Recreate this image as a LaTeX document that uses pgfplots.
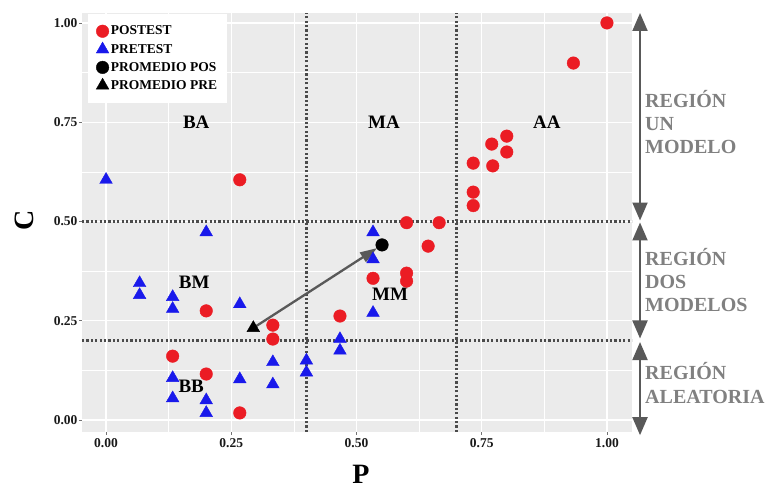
\documentclass[border=0pt]{standalone}
\usepackage{fontspec}
\setmainfont{Liberation Serif}
\usepackage{pgfplots}
\pgfplotsset{compat=1.18}
\usetikzlibrary{arrows.meta}

\definecolor{pos}{RGB}{235,28,36}
\definecolor{pre}{RGB}{25,25,235}
\definecolor{panel}{RGB}{235,235,235}
\definecolor{refline}{RGB}{75,75,75}
\definecolor{arr}{RGB}{89,89,89}
\definecolor{regtext}{RGB}{128,128,128}

\newcommand{\tickfont}{\bfseries\fontsize{13.5}{14}\selectfont}
\newcommand{\zonefont}{\bfseries\fontsize{19}{20}\selectfont}
\newcommand{\regfont}{\bfseries\fontsize{20}{22}\selectfont}

\begin{document}
\begin{tikzpicture}
\useasboundingbox (-82pt,-57pt) rectangle (683pt,432pt);
\begin{axis}[
    scale only axis,
    width=550pt, height=419pt,
    xmin=-0.048, xmax=1.05, ymin=-0.03, ymax=1.025,
    axis background/.style={fill=panel},
    axis line style={draw=none},
    xtick={0,0.25,0.5,0.75,1}, ytick={0,0.25,0.5,0.75,1},
    minor xtick={0.125,0.375,0.625,0.875},
    minor ytick={0.125,0.375,0.625,0.875},
    xticklabels={0.00,0.25,0.50,0.75,1.00},
    yticklabels={0.00,0.25,0.50,0.75,1.00},
    grid=both,
    major grid style={white, line width=1.4pt},
    minor grid style={white, line width=0.7pt},
    tick pos=left, tick align=outside,
    major tick length=3pt, minor tick length=0pt,
    tick style={black!55, line width=0.8pt},
    ticklabel style={font=\tickfont, text=black!90},
    yticklabel style={xshift=2pt},
    xlabel={P}, ylabel={C},
    label style={font=\bfseries\fontsize{28}{28}\selectfont},
    xlabel style={at={(axis description cs:0.507,-0.1)}, anchor=center},
    ylabel style={at={(axis description cs:-0.104,0.506)}, anchor=center},
    clip=false,
    legend style={at={(0.011,0.998)}, anchor=north west, draw=none, fill=white,
        font=\bfseries\fontsize{13.5}{14}\selectfont,
        inner xsep=8pt, inner ysep=10pt, row sep=3.6pt,
        /tikz/every even column/.append style={column sep=4pt}},
    legend cell align=left,
]
% postest
\addplot[only marks, mark=*, mark size=6.3pt, draw=pos, fill=pos] coordinates {
(1.000,1.000) (0.933,0.899) (0.800,0.715) (0.770,0.695) (0.800,0.675)
(0.733,0.647) (0.772,0.640) (0.733,0.574) (0.733,0.540) (0.600,0.497)
(0.665,0.497) (0.643,0.438) (0.533,0.357) (0.600,0.370) (0.600,0.350)
(0.467,0.262) (0.333,0.239) (0.333,0.204) (0.200,0.275) (0.133,0.161)
(0.200,0.116) (0.267,0.018) (0.267,0.605)
};
\addlegendentry{POSTEST}
% pretest
\addplot[only marks, mark=triangle*, mark size=7.3pt, draw=pre, fill=pre] coordinates {
(0.000,0.605) (0.200,0.473) (0.067,0.345) (0.067,0.315) (0.133,0.310)
(0.133,0.280) (0.267,0.292) (0.133,0.106) (0.133,0.055) (0.200,0.050)
(0.200,0.018) (0.267,0.103) (0.333,0.146) (0.333,0.090) (0.400,0.150)
(0.400,0.120) (0.467,0.204) (0.467,0.175) (0.533,0.473) (0.533,0.405)
(0.533,0.270)
};
\addlegendentry{PRETEST}

% region borders
\draw[refline, line width=2.6pt, dash pattern=on 2.2pt off 2.2pt] (axis cs:0.4,-0.03) -- (axis cs:0.4,1.025);
\draw[refline, line width=2.6pt, dash pattern=on 2.2pt off 2.2pt] (axis cs:0.7,-0.03) -- (axis cs:0.7,1.025);
\draw[refline, line width=2.6pt, dash pattern=on 2.2pt off 2.2pt] (axis cs:-0.048,0.5) -- (axis cs:1.05,0.5);
\draw[refline, line width=2.6pt, dash pattern=on 2.2pt off 2.2pt] (axis cs:-0.048,0.2) -- (axis cs:1.05,0.2);

% mean shift
\draw[arr, line width=2.3pt, -{Triangle[length=17pt,width=11pt]}] (axis cs:0.294,0.232) -- (axis cs:0.541,0.433);

\addplot[only marks, mark=*, mark size=6.3pt, black] coordinates {(0.551,0.441)};
\addlegendentry{PROMEDIO POS}
\addplot[only marks, mark=triangle*, mark size=7.3pt, black] coordinates {(0.294,0.232)};
\addlegendentry{PROMEDIO PRE}

% zone labels
\node[font=\zonefont] at (axis cs:0.180,0.750) {BA};
\node[font=\zonefont] at (axis cs:0.555,0.750) {MA};
\node[font=\zonefont] at (axis cs:0.880,0.750) {AA};
\node[font=\zonefont] at (axis cs:0.176,0.348) {BM};
\node[font=\zonefont] at (axis cs:0.567,0.317) {MM};
\node[font=\zonefont] at (axis cs:0.170,0.084) {BB};

% region arrows
\draw[arr, line width=2pt, {Triangle[length=18pt,width=15pt]}-{Triangle[length=18pt,width=15pt]}] (axis cs:1.066,1.025) -- (axis cs:1.066,0.5025);
\draw[arr, line width=2pt, {Triangle[length=18pt,width=15pt]}-{Triangle[length=18pt,width=15pt]}] (axis cs:1.066,0.4975) -- (axis cs:1.066,0.2055);
\draw[arr, line width=2pt, {Triangle[length=18pt,width=15pt]}-{Triangle[length=18pt,width=15pt]}] (axis cs:1.066,0.1965) -- (axis cs:1.066,-0.038);

\node[font=\regfont, text=regtext, anchor=base west, inner sep=0pt] at (axis cs:1.076,0.786) {REGIÓN};
\node[font=\regfont, text=regtext, anchor=base west, inner sep=0pt] at (axis cs:1.076,0.728) {UN};
\node[font=\regfont, text=regtext, anchor=base west, inner sep=0pt] at (axis cs:1.076,0.670) {MODELO};
\node[font=\regfont, text=regtext, anchor=base west, inner sep=0pt] at (axis cs:1.076,0.390) {REGIÓN};
\node[font=\regfont, text=regtext, anchor=base west, inner sep=0pt] at (axis cs:1.076,0.332) {DOS};
\node[font=\regfont, text=regtext, anchor=base west, inner sep=0pt] at (axis cs:1.076,0.274) {MODELOS};
\node[font=\regfont, text=regtext, anchor=base west, inner sep=0pt] at (axis cs:1.076,0.101) {REGIÓN};
\node[font=\regfont, text=regtext, anchor=base west, inner sep=0pt] at (axis cs:1.076,0.043) {ALEATORIA};
\end{axis}
\end{tikzpicture}
\end{document}
